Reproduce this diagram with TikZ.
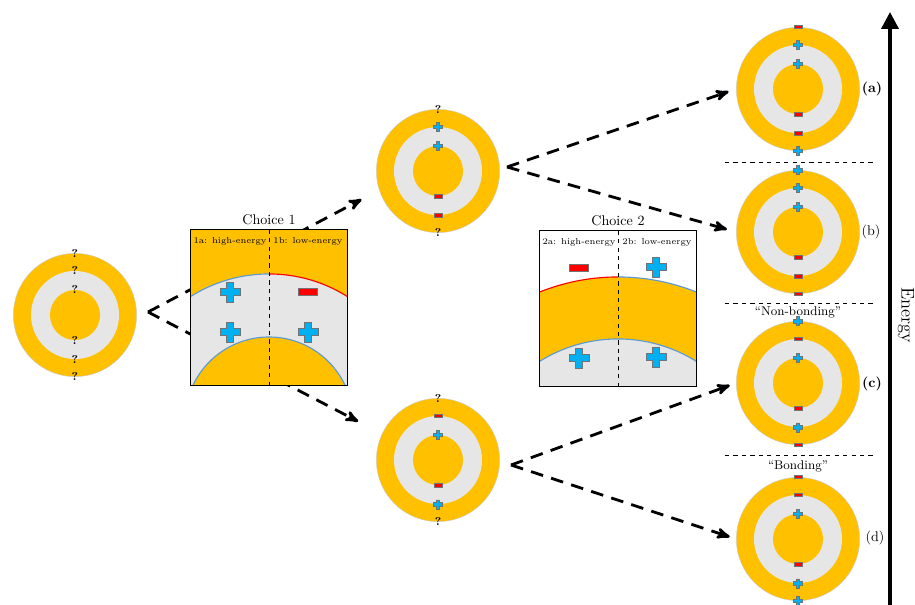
\documentclass[tikz,border=0pt]{standalone}
\usepackage{tikz}
\usetikzlibrary{arrows,arrows.meta,positioning}

\definecolor{shellorange}{HTML}{FFC000}
\definecolor{shellgray}{HTML}{E6E6E6}
\definecolor{edgeblue}{HTML}{5B9BD5}
\definecolor{chargeblue}{HTML}{00B0F0}
\definecolor{chargered}{HTML}{FF0000}

\begin{document}
\begin{tikzpicture}[x=0.025cm,y=-0.025cm,font=\normalsize]
\tikzset{
    %Define standard arrow tip
    >=stealth',
    %Define styles for the three shells of an atom
    shellout/.style={
           circle,
           fill=shellorange,
           draw=black!20, line width=0.3pt,
           minimum size=3.08cm,
           inner sep=0pt},
    shellmid/.style={
           circle,
           fill=shellgray,
           minimum size=2.2cm,
           inner sep=0pt},
    shellin/.style={
           circle,
           fill=shellorange,
           minimum size=1.25cm,
           inner sep=0pt},
    % Define styles for the charges
    chg/.style={draw=black!55, line width=0.4pt},
    qmark/.style={font=\footnotesize\bfseries, inner sep=0pt},
    plus/.pic={
           \filldraw[chg,fill=chargeblue] (-1.7,-4.5) -- (1.7,-4.5) -- (1.7,-1.7) -- (4.5,-1.7)
           -- (4.5,1.7) -- (1.7,1.7) -- (1.7,4.5) -- (-1.7,4.5) -- (-1.7,1.7) -- (-4.5,1.7)
           -- (-4.5,-1.7) -- (-1.7,-1.7) -- cycle;},
    minus/.pic={
           \filldraw[chg,fill=chargered] (-4.2,-1.6) rectangle (4.2,1.6);},
    qm/.pic={
           \node[qmark] (qm) {?};},
    % Define styles for the choice boxes
    choicebox/.style={
           rectangle,
           minimum width=3.9cm,
           minimum height=3.875cm,
           inner sep=0pt},
    tag/.style={font=\fontsize{6.2}{7}\selectfont, inner sep=1pt},
    % Define arrow style
    pil/.style={
           ->,
           line width=2pt,
           dash pattern=on 9pt off 6pt}
}
	\useasboundingbox (0,0) rectangle (915,605);

 %atoms
	\foreach \r/\x/\y in {L/75/315, T/438/171, B/438/460, a/798/89, b/798/232, c/798/383, d/798/539}{
		\node[shellout] (\r-o) at (\x,\y) {};
		\node[shellmid] (\r-m) at (\r-o) {};
		\node[shellin] (\r-i) at (\r-o) {};
	}

 %charges, from the top of the atom to the bottom
	\foreach \r/\cA/\cB/\cC/\cD/\cE/\cF in {L/qm/qm/qm/qm/qm/qm, T/qm/plus/plus/minus/minus/qm,
	         B/qm/minus/plus/minus/plus/qm, a/minus/plus/plus/minus/minus/plus,
	         b/plus/plus/plus/minus/minus/minus, c/plus/minus/plus/minus/plus/minus,
	         d/minus/minus/plus/minus/plus/plus}{
		\pic at (\r-o.north) {\cA};
		\pic at (\r-m.north) {\cB};
		\pic at (\r-i.north) {\cC};
		\pic at (\r-i.south) {\cD};
		\pic at (\r-m.south) {\cE};
		\pic at (\r-o.south) {\cF};
	}

 %arrows
	\coordinate (forkL) at (148,312);
	\coordinate (forkT) at (507,167);
	\coordinate (forkB) at (511,465);
	\path (forkL) edge[pil,shorten >=0.5cm] (T-o.198);
	\path (forkL) edge[pil,shorten >=0.67cm] (B-o.155);
	\path (forkT) edge[pil,shorten >=0.2cm] (a-o.west);
	\path (forkT) edge[pil,shorten >=0.24cm] (b-o.west);
	\path (forkB) edge[pil,shorten >=0.17cm] (c-o.west);
	\path (forkB) edge[pil,shorten >=0.17cm] (d-o.west);

 %choice 1
	\node[choicebox] (choice1) at (269,307.5) {};
	\node[above=0pt of choice1] (choice1lbl) {Choice 1};
	\begin{scope}
		\clip (choice1.north west) rectangle (choice1.south east);
		\fill[shellorange] (choice1.north west) rectangle (choice1.south east);
		\fill[shellgray] (269,421) circle (3.675cm);
		\fill[shellorange] (269,421) circle (2.1cm);
		\draw[edgeblue,line width=0.8pt] (269,421) circle (2.1cm);
		\begin{scope}
			\clip (choice1.north west) rectangle (choice1.south);
			\draw[edgeblue,line width=0.8pt] (269,421) circle (3.675cm);
		\end{scope}
		\begin{scope}
			\clip (choice1.north) rectangle (choice1.south east);
			\draw[chargered,line width=0.8pt] (269,421) circle (3.675cm);
		\end{scope}
	\end{scope}
	\draw[dashed,thin] (choice1.north) -- (choice1.south);
	\draw[line width=1pt] (choice1.north west) rectangle (choice1.south east);
	\node[tag] (c1a) at (230,241) {1a: high-energy};
	\node[tag] (c1b) at (308,241) {1b: low-energy};
	\pic[scale=2.2] at (230,292) {plus};
	\pic[scale=2.2] at (308,292) {minus};
	\pic[scale=2.2] at (230,332) {plus};
	\pic[scale=2.2] at (308,332) {plus};

 %choice 2
	\node[choicebox] (choice2) at (618,308.5) {};
	\node[above=0pt of choice2] (choice2lbl) {Choice 2};
	\begin{scope}
		\clip (choice2.north west) rectangle (choice2.south east);
		\fill[white] (choice2.north west) rectangle (choice2.south east);
		\fill[shellorange] (618,487) circle (5.25cm);
		\fill[shellgray] (618,487) circle (3.7cm);
		\draw[edgeblue,line width=0.8pt] (618,487) circle (3.7cm);
		\begin{scope}
			\clip (choice2.north west) rectangle (choice2.south);
			\draw[chargered,line width=0.8pt] (618,487) circle (5.25cm);
		\end{scope}
		\begin{scope}
			\clip (choice2.north) rectangle (choice2.south east);
			\draw[edgeblue,line width=0.8pt] (618,487) circle (5.25cm);
		\end{scope}
	\end{scope}
	\draw[dashed,thin] (choice2.north) -- (choice2.south);
	\draw[line width=1pt] (choice2.north west) rectangle (choice2.south east);
	\node[tag] (c2a) at (579,242) {2a: high-energy};
	\node[tag] (c2b) at (657,242) {2b: low-energy};
	\pic[scale=2.2] at (579,268) {minus};
	\pic[scale=2.2] at (656,267) {plus};
	\pic[scale=2.2] at (579,358) {plus};
	\pic[scale=2.2] at (656,357) {plus};

 %energy levels
	\draw[dashed,thin] (725,162) -- (873,162);
	\draw[dashed,thin] (725,303) -- (873,303);
	\draw[dashed,thin] (725,455) -- (873,455);
	\node[font=\small] (nonbond) at (798,312) {``Non-bonding''};
	\node[font=\small] (bond) at (798,466) {``Bonding''};
	\node (lbla) at (872,89) {\textbf{(a)}};
	\node (lblb) at (871,232) {(b)};
	\node (lblc) at (872,384) {\textbf{(c)}};
	\node (lbld) at (875,538) {(d)};

 %energy axis
	\coordinate (ebot) at (890,605);
	\coordinate (etop) at (890,12);
	\draw[line width=2.6pt,-{Triangle[length=12pt,width=12pt]}] (ebot) -- (etop);
	\node[rotate=-90,font=\fontsize{13}{15}\selectfont] (energy) at (906,315) {Energy};

\end{tikzpicture}
\end{document}
